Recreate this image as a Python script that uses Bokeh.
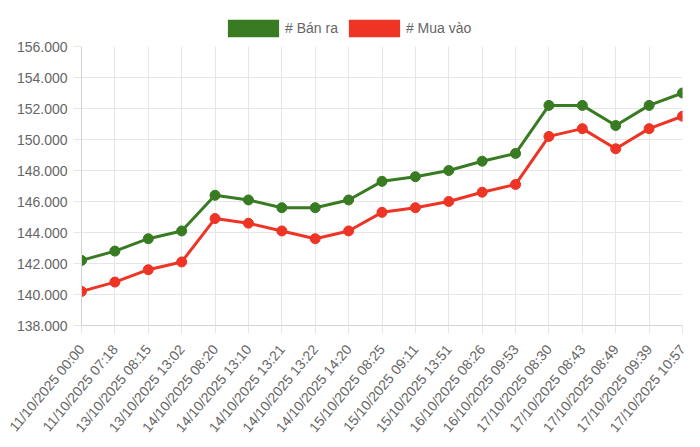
import math
from bokeh.plotting import figure
from bokeh.layouts import column
from bokeh.models import Range1d, FixedTicker, Legend, LegendItem
from bokeh.embed import file_html
from bokeh.resources import INLINE

times = [
    "11/10/2025 00:00", "11/10/2025 07:18", "13/10/2025 08:15", "13/10/2025 13:02",
    "14/10/2025 08:20", "14/10/2025 13:10", "14/10/2025 13:21", "14/10/2025 13:22",
    "14/10/2025 14:20", "15/10/2025 08:25", "15/10/2025 09:11", "15/10/2025 13:51",
    "16/10/2025 08:26", "16/10/2025 09:53", "17/10/2025 08:30", "17/10/2025 08:43",
    "17/10/2025 08:49", "17/10/2025 09:39", "17/10/2025 10:57",
]
ban_ra = [142200, 142800, 143600, 144100, 146400, 146100, 145600, 145600, 146100,
          147300, 147600, 148000, 148600, 149100, 152200, 152200, 150900, 152200, 153000]
mua_vao = [140200, 140800, 141600, 142100, 144900, 144600, 144100, 143600, 144100,
           145300, 145600, 146000, 146600, 147100, 150200, 150700, 149400, 150700, 151500]
y_ticks = [138000, 140000, 142000, 144000, 146000, 148000, 150000, 152000, 154000, 156000]
y_tick_labels = ["138.000", "140.000", "142.000", "144.000", "146.000",
                 "148.000", "150.000", "152.000", "154.000", "156.000"]
series_names = ["# Bán ra", "# Mua vào"]

GREEN = "#387b22"
RED = "#ee3424"
GRID = "#e6e6e6"
AXIS = "#d2d2d2"
TEXT = "#666666"
FONT = "Liberation Sans"

x = list(range(len(times)))
xr = Range1d(x[0], x[-1])
yr = Range1d(y_ticks[0], y_ticks[-1])

p = figure(width=700, height=406, output_backend="svg", toolbar_location=None,
           x_range=xr, y_range=yr,
           min_border_left=81, min_border_right=18, min_border_top=7, min_border_bottom=120)
p.outline_line_color = None
p.xgrid.grid_line_color = GRID
p.ygrid.grid_line_color = GRID

xa = p.xaxis[0]
xa.ticker = FixedTicker(ticks=x)
xa.major_label_overrides = {i: t for i, t in zip(x, times)}
xa.major_label_orientation = math.radians(50)

ya = p.yaxis[0]
ya.ticker = FixedTicker(ticks=y_ticks)
ya.major_label_overrides = {v: s for v, s in zip(y_ticks, y_tick_labels)}

for ax in (xa, ya):
    ax.axis_line_color = AXIS
    ax.major_tick_line_color = GRID
    ax.major_tick_out = 8
    ax.major_tick_in = 0
    ax.minor_tick_line_color = None
    ax.major_label_text_font = FONT
    ax.major_label_text_font_size = "14px"
    ax.major_label_text_color = TEXT
ya.major_label_standoff = 6
xa.major_label_standoff = 13

p.line(x, ban_ra, line_width=3, color=GREEN)
p.scatter(x, ban_ra, size=10, color=GREEN)
p.line(x, mua_vao, line_width=3, color=RED)
p.scatter(x, mua_vao, size=10, color=RED)

# separate strip above the chart holding the legend (its frame is aligned with the chart's)
lg = figure(width=700, height=39, output_backend="svg", toolbar_location=None,
            x_range=xr, y_range=yr, min_border=0,
            x_axis_location=None, y_axis_location=None)
lg.grid.visible = False
lg.outline_line_color = None
g1 = lg.rect(x=x[:1], y=ban_ra[:1], width=0, height=0, fill_color=GREEN, line_color=None)
g2 = lg.rect(x=x[:1], y=mua_vao[:1], width=0, height=0, fill_color=RED, line_color=None)
legend = Legend(items=[LegendItem(label=series_names[0], renderers=[g1]),
                       LegendItem(label=series_names[1], renderers=[g2])],
                orientation="horizontal", location=(140, 0),
                glyph_width=64, glyph_height=22, label_height=22,
                label_standoff=0, spacing=4, padding=0, margin=0,
                border_line_color=None, background_fill_alpha=0,
                label_text_font=FONT, label_text_font_size="14px",
                label_text_color=TEXT)
lg.add_layout(legend)

layout = column(lg, p, spacing=0)
open("out.html", "w").write(file_html(layout, INLINE))
